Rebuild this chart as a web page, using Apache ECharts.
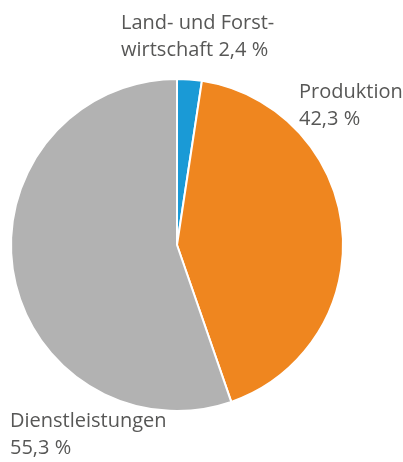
<!DOCTYPE html>
<html>
<head>
<meta charset="utf-8">
<script src="https://cdn.jsdelivr.net/npm/echarts@6/dist/echarts.min.js"></script>
<style>
  html, body { margin: 0; padding: 0; background: #fff; }
  #main { width: 403px; height: 462px; }
</style>
</head>
<body>
<div id="main"></div>
<script>
var sectors = ["Land- und Forstwirtschaft", "Produktion", "Dienstleistungen"];
var shares = [2.4, 42.3, 55.3];
var labelTexts = ["Land- und Forst-\nwirtschaft 2,4 %", "Produktion\n42,3 %", "Dienstleistungen\n55,3 %"];
var colors = ["#1a9ad6", "#ef861f", "#b2b2b2"];

var chart = echarts.init(document.getElementById("main"));

var labelPos = [
  [121, 10],
  [299, 79],
  [10, 408]
];

var texts = [];
for (var i = 0; i < labelTexts.length; i++) {
  texts.push({
    type: "text",
    left: labelPos[i][0],
    top: labelPos[i][1],
    style: {
      text: labelTexts[i],
      fill: "#575756",
      font: '20px "Open Sans", sans-serif',
      lineHeight: 27
    }
  });
}

var data = [];
for (var j = 0; j < sectors.length; j++) {
  data.push({ name: sectors[j], value: shares[j], itemStyle: { color: colors[j] } });
}

chart.setOption({
  animation: false,
  graphic: texts,
  series: [
    {
      type: "pie",
      center: [177, 245],
      radius: [0, 166],
      startAngle: 90,
      clockwise: true,
      label: { show: false },
      labelLine: { show: false },
      itemStyle: { borderColor: "#fff", borderWidth: 2 },
      data: data
    }
  ]
});
</script>
</body>
</html>
